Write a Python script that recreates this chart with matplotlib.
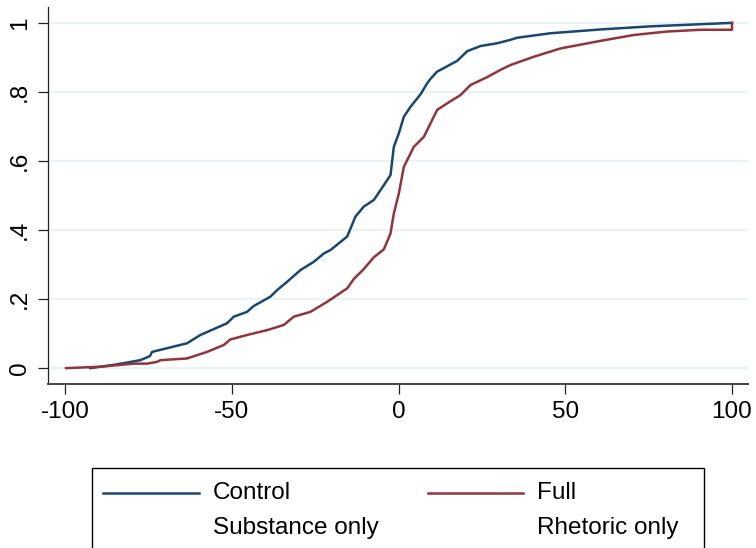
import matplotlib
matplotlib.use("Agg")
import matplotlib.pyplot as plt
from matplotlib.patches import Rectangle
from matplotlib.lines import Line2D

plt.rcParams['font.family'] = ['Liberation Sans', 'DejaVu Sans']

# Empirical CDF of the change score, by treatment group
control_x = [-92.4, -85.0, -77.4, -74.5, -73.9, -63.4, -59.4, -51.4, -49.4, -45.4,
             -43.4, -38.4, -36.4, -33.4, -29.4, -25.4, -22.4, -20.4, -15.4, -12.9,
             -10.4, -7.4, -4.4, -2.4, -1.4, 0.1, 1.6, 3.6, 6.6, 8.6,
             9.6, 11.6, 12.6, 17.6, 20.6, 24.6, 29.6, 33.6, 35.6, 45.6,
             60.6, 75.6, 100.0]
control_y = [0.0, 0.010, 0.023, 0.035, 0.047, 0.072, 0.096, 0.130, 0.149, 0.163,
             0.180, 0.207, 0.226, 0.250, 0.284, 0.308, 0.332, 0.342, 0.381, 0.439,
             0.468, 0.487, 0.530, 0.559, 0.641, 0.680, 0.728, 0.757, 0.793, 0.825,
             0.838, 0.859, 0.864, 0.890, 0.918, 0.933, 0.941, 0.951, 0.957, 0.970,
             0.981, 0.990, 1.0]

full_x = [-99.7, -89.4, -79.4, -75.4, -72.4, -71.4, -63.4, -57.4, -52.4, -50.4,
          -45.4, -39.4, -34.4, -31.4, -26.4, -21.4, -15.4, -13.4, -10.4, -7.4,
          -4.4, -2.4, -1.4, 0.1, 1.6, 4.6, 7.6, 9.6, 11.6, 14.6,
          18.6, 21.6, 26.6, 30.6, 33.6, 40.6, 48.6, 60.6, 70.6, 80.6,
          90.6, 100.0, 100.0]
full_y = [0.0, 0.004, 0.013, 0.013, 0.018, 0.023, 0.028, 0.047, 0.067, 0.083,
          0.096, 0.110, 0.125, 0.149, 0.163, 0.192, 0.231, 0.258, 0.287, 0.321,
          0.344, 0.390, 0.448, 0.506, 0.583, 0.641, 0.670, 0.709, 0.748, 0.767,
          0.791, 0.820, 0.843, 0.864, 0.878, 0.902, 0.926, 0.948, 0.965, 0.975,
          0.980, 0.980, 1.0]

x_ticks = [-100, -50, 0, 50, 100]
x_labels = ["-100", "-50", "0", "50", "100"]
y_ticks = [0, 0.2, 0.4, 0.6, 0.8, 1.0]
y_labels = ["0", ".2", ".4", ".6", ".8", "1"]

legend_labels = ["Control", "Full", "Substance only", "Rhetoric only"]

BLUE = "#1a476f"
RED = "#90353b"
GRID = "#eaf2f3"
FS = 17.5

fig = plt.figure(figsize=(7.56, 5.48), dpi=100)
ax = fig.add_axes([48 / 756, 1 - 384 / 548, 700 / 756, 377 / 548])

ax.plot(control_x, control_y, color=BLUE, lw=1.8, solid_joinstyle='round')
ax.plot(full_x, full_y, color=RED, lw=1.8, solid_joinstyle='round')

ax.set_xlim(-105.1, 104.8)
ax.set_ylim(-0.046, 1.046)

ax.set_xticks(x_ticks)
ax.set_xticklabels(x_labels)
ax.set_yticks(y_ticks)
ax.set_yticklabels(y_labels, rotation=90, va='center')

for t in y_ticks:
    ax.axhline(t, color=GRID, lw=1.6, zorder=0)

for side in ("top", "right"):
    ax.spines[side].set_visible(False)
ax.spines["left"].set_color("#222222")
ax.spines["left"].set_linewidth(0.9)
ax.spines["bottom"].set_color("#444444")
ax.spines["bottom"].set_linewidth(1.4)

ax.tick_params(axis='both', which='major', length=7.5, width=0.9,
               color="#222222", labelsize=FS, labelcolor="black")
ax.tick_params(axis='x', pad=5)
ax.tick_params(axis='y', pad=5)

# Legend box, drawn in figure coordinates
fig.patches.append(Rectangle((92 / 756, -0.2), 612 / 756, 0.2 + (1 - 468 / 548),
                             transform=fig.transFigure, fill=False,
                             edgecolor="black", lw=1.0, clip_on=False))

row1 = 1 - 493 / 548
row2 = 1 - 528 / 548
fig.lines.append(Line2D([103 / 756, 199 / 756], [row1, row1],
                        transform=fig.transFigure, color=BLUE, lw=1.8))
fig.lines.append(Line2D([428 / 756, 523 / 756], [row1, row1],
                        transform=fig.transFigure, color=RED, lw=1.8))
fig.text(213 / 756, row1, legend_labels[0], fontsize=FS, va='center', ha='left')
fig.text(537 / 756, row1, legend_labels[1], fontsize=FS, va='center', ha='left')
fig.text(213 / 756, row2, legend_labels[2], fontsize=FS, va='center', ha='left')
fig.text(537 / 756, row2, legend_labels[3], fontsize=FS, va='center', ha='left')

fig.savefig("out.png", dpi=100)
